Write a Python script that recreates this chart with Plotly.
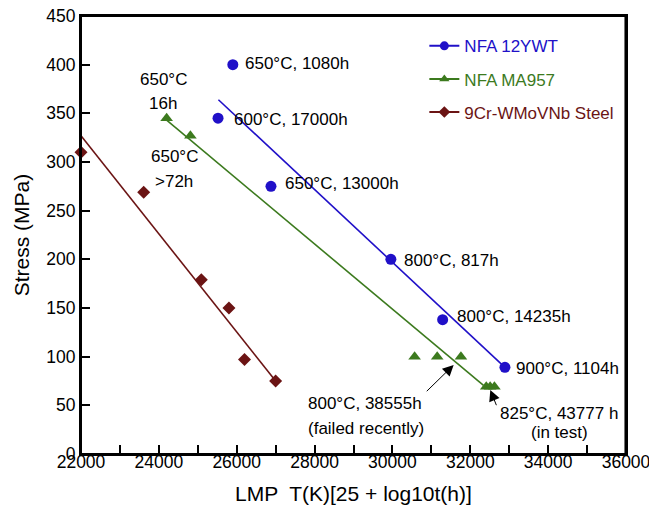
import plotly.graph_objects as go

FONT = "Liberation Sans, Arial, Helvetica, sans-serif"
BLUE = "#2010c8"
GREEN = "#3c7a1e"
RED = "#6b1414"

# NFA 12YWT
ywt_lmp = [25900, 25520, 26880, 29960, 31290, 32890]
ywt_stress = [400, 345, 275, 200, 138, 89]
ywt_fit_lmp = [25530, 32890]
ywt_fit_stress = [364, 89]

# NFA MA957
ma_lmp = [24200, 24810, 30570, 31150, 31760, 32410, 32510, 32620]
ma_stress = [345, 327, 100, 100, 100, 69, 69, 69]
ma_fit_lmp = [24200, 32340]
ma_fit_stress = [343, 70.5]

# 9Cr-WMoVNb Steel
cr_lmp = [22000, 23610, 25090, 25800, 26200, 27000]
cr_stress = [310, 269, 179, 150, 97, 75]
cr_fit_lmp = [22000, 27000]
cr_fit_stress = [327, 75]

series = [
    ("NFA 12YWT", BLUE, "circle", 11, ywt_lmp, ywt_stress, ywt_fit_lmp, ywt_fit_stress),
    ("NFA MA957", GREEN, "triangle-up", 11, ma_lmp, ma_stress, ma_fit_lmp, ma_fit_stress),
    ("9Cr-WMoVNb Steel", RED, "diamond", 10, cr_lmp, cr_stress, cr_fit_lmp, cr_fit_stress),
]

# point labels: (text, lmp, stress, xanchor)
labels = [
    ("650°C, 1080h", 26165, 401, "left"),
    ("600°C, 17000h", 25882, 344, "left"),
    ("650°C, 13000h", 27185, 278, "left"),
    ("800°C, 817h", 30244, 199, "left"),
    ("800°C, 14235h", 31614, 141, "left"),
    ("900°C, 1104h", 33113, 88, "left"),
    ("650°C", 24108, 385, "center"),
    ("16h", 24103, 360, "center"),
    ("650°C", 24391, 306, "center"),
    (">72h", 24386, 279.5, "center"),
    ("800°C, 38555h", 29293, 52.4, "center"),
    ("(failed recently)", 29327, 26.7, "center"),
    ("825°C, 43777 h", 34275, 42, "center"),
    ("(in test)", 34280, 21.6, "center"),
]

# arrows: head (lmp, stress), tail (lmp, stress)
arrows = [
    ((31573, 91.5), (30843, 63)),
    ((32514, 65.8), (32686, 48.6)),
]

fig = go.Figure()
for i, (name, col, sym, sz, xs, ys, fx, fy) in enumerate(series):
    fig.add_trace(go.Scatter(x=fx, y=fy, mode="lines", line=dict(color=col, width=1.6),
                             showlegend=False, hoverinfo="skip"))
    fig.add_trace(go.Scatter(x=xs, y=ys, mode="markers", cliponaxis=False,
                             marker=dict(color=col, symbol=sym, size=sz),
                             showlegend=False))
    fig.add_trace(go.Scatter(x=[None], y=[None], mode="lines+markers",
                             name=f'<span style="color:{col}">{name}</span>',
                             legendgroup=f"g{i}",
                             line=dict(color=col, width=2),
                             marker=dict(color=col, symbol=sym, size=9)))

for text, x, y, xa in labels:
    fig.add_annotation(x=x, y=y, xref="x", yref="y", text=text, showarrow=False,
                       xanchor=xa, yanchor="middle",
                       font=dict(family=FONT, size=17, color="black"))

for (hx, hy), (tx, ty) in arrows:
    fig.add_annotation(x=hx, y=hy, ax=tx, ay=ty, xref="x", yref="y", axref="x", ayref="y",
                       text="", showarrow=True, arrowhead=2, arrowsize=2.2, arrowwidth=1,
                       arrowcolor="black", standoff=0, startstandoff=0)

# plot frame
fig.add_shape(type="rect", xref="paper", yref="paper", x0=0, x1=1, y0=0, y1=1,
              line=dict(color="black", width=2), layer="above")
fig.add_shape(type="line", xref="paper", yref="paper", x0=0.999, x1=0.999, y0=0, y1=1,
              line=dict(color="black", width=2), layer="above")

axis_common = dict(showline=True, linewidth=2, linecolor="black", mirror=True,
                   ticks="inside", ticklen=9, tickwidth=2, tickcolor="black",
                   showgrid=False, zeroline=False, automargin=False,
                   ticklabeloverflow="allow",
                   tickfont=dict(family=FONT, size=17.5, color="black"))

fig.update_xaxes(range=[22000, 36000], tick0=22000, dtick=2000, tickformat="d",
                 minor=dict(dtick=1000, ticks="inside", ticklen=9, tickwidth=2, tickcolor="black"),
                 title=dict(text="LMP  T(K)[25 + log10t(h)]", standoff=15,
                            font=dict(family=FONT, size=21, color="black")),
                 ticklabelstandoff=-9,
                 **axis_common)
fig.update_yaxes(range=[0, 450], tick0=0, dtick=50,
                 title=dict(text="Stress (MPa)", standoff=11,
                            font=dict(family=FONT, size=21, color="black")),
                 **axis_common)

fig.update_layout(
    width=649, height=511,
    margin=dict(l=81, r=23, t=16, b=57),
    paper_bgcolor="white", plot_bgcolor="white",
    font=dict(family=FONT, size=17, color="black"),
    legend=dict(x=0.63, y=0.972, xanchor="left", yanchor="top",
                bgcolor="rgba(0,0,0,0)", tracegroupgap=8,
                font=dict(family=FONT, size=17)),
    showlegend=True,
)

fig.write_html("out.html", config={"displayModeBar": False},
               post_script="document.body.style.margin='0';document.body.style.overflow='hidden';")
